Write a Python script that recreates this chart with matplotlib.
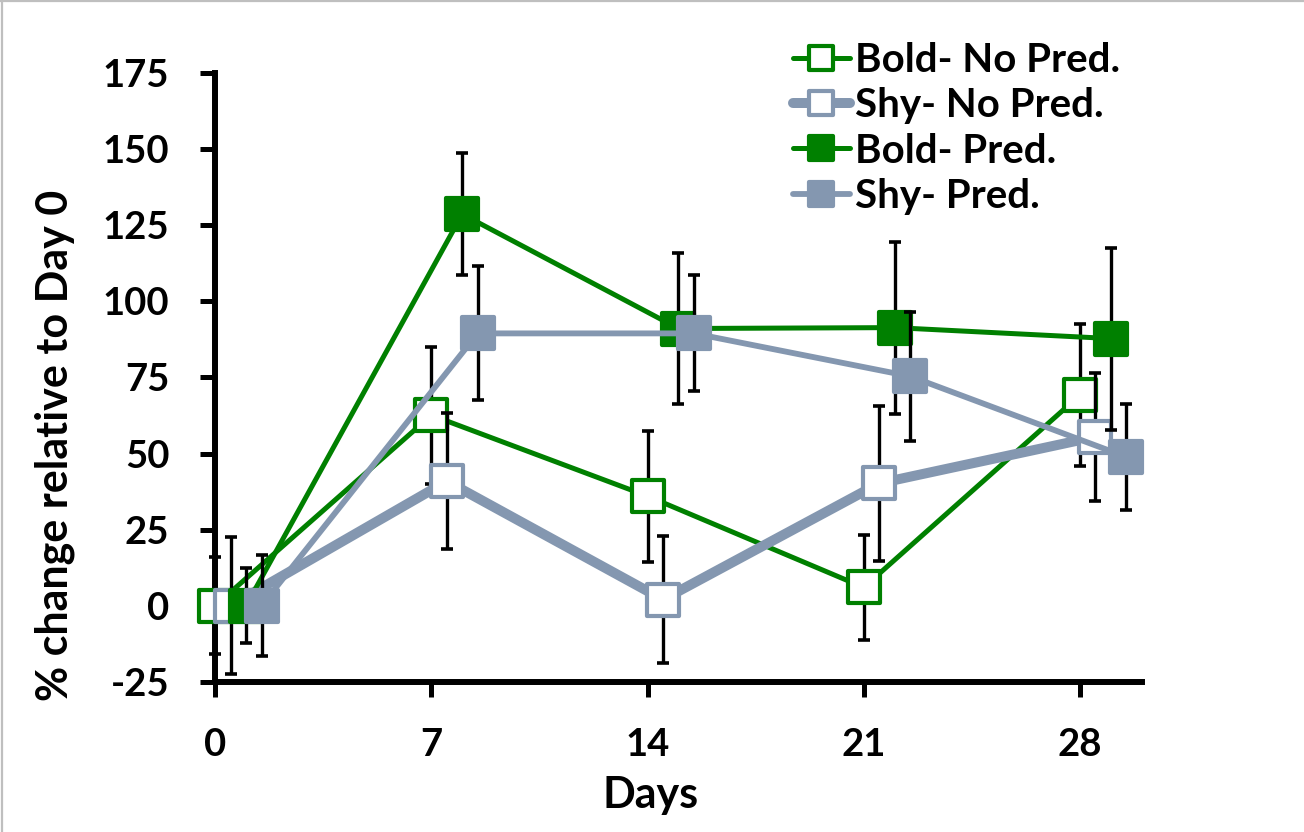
import matplotlib
matplotlib.use('Agg')
import matplotlib.pyplot as plt
from matplotlib.markers import MarkerStyle
from matplotlib.lines import Line2D

plt.rcParams['font.family'] = ['Lato', 'DejaVu Sans']
plt.rcParams['font.weight'] = 'bold'
plt.rcParams['axes.unicode_minus'] = False

# ---- data ----
days = [0, 7, 14, 21, 28]
series_names = ["Bold- No Pred.", "Shy- No Pred.", "Bold- Pred.", "Shy- Pred."]

bold_nopred = [0, 62.6, 36.0, 6.0, 69.2]
bold_nopred_err = [16.0, 22.5, 21.5, 17.2, 23.4]

shy_nopred = [0, 40.9, 2.0, 40.2, 55.5]
shy_nopred_err = [22.5, 22.3, 21.0, 25.4, 21.0]

bold_pred = [0, 128.7, 91.1, 91.4, 87.8]
bold_pred_err = [12.4, 20.0, 24.8, 28.3, 29.9]

shy_pred = [0, 89.5, 89.5, 75.4, 48.9]
shy_pred_err = [16.5, 22.0, 19.1, 21.2, 17.5]

x_ticks = [0, 7, 14, 21, 28]
x_ticklabels = ['0', '7', '14', '21', '28']
y_ticks = [-25, 0, 25, 50, 75, 100, 125, 150, 175]
y_ticklabels = ['-25', '0', '25', '50', '75', '100', '125', '150', '175']

# ---- style ----
GREEN = '#008000'
GREY = '#8497B0'
values = [bold_nopred, shy_nopred, bold_pred, shy_pred]
errors = [bold_nopred_err, shy_nopred_err, bold_pred_err, shy_pred_err]
colors = [GREEN, GREY, GREEN, GREY]
faces = ['white', 'white', GREEN, GREY]
lws = [3.6, 7.2, 3.6, 4.2]
offsets = [0.0, 0.5, 1.0, 1.5]

fig = plt.figure(figsize=(13.04, 8.32), dpi=100)
ax = fig.add_axes([0.16503, 0.18065, 0.71051, 0.73125])

for i in range(4):
    xs = [d + offsets[i] for d in days]
    eb = ax.errorbar(xs, values[i], yerr=errors[i], fmt='none', ecolor='black',
                     elinewidth=2.4, capsize=4.5, capthick=2.6, zorder=3 + 3 * i)
    for art in eb.lines[1]:
        art.set_clip_on(False)
    for art in eb.lines[2]:
        art.set_clip_on(False)
    mk = MarkerStyle('s', joinstyle='round')
    ax.plot(xs, values[i], color=colors[i], lw=lws[i], marker=mk, ms=23, mew=3,
            mfc=faces[i], mec=colors[i], zorder=4 + 3 * i, clip_on=False,
            label=series_names[i], solid_joinstyle='round', solid_capstyle='round')

ax.set_xlim(0, 30)
ax.set_ylim(-25, 175)
ax.set_xticks(x_ticks)
ax.set_xticklabels(x_ticklabels)
ax.set_yticks(y_ticks)
ax.set_yticklabels(y_ticklabels)

for s in ['top', 'right']:
    ax.spines[s].set_visible(False)
for s in ['left', 'bottom']:
    ax.spines[s].set_linewidth(4.3)
    ax.spines[s].set_color('black')
ax.tick_params(axis='both', direction='out', length=11, width=3.6, labelsize=27.5, pad=22,
               colors='black')
for lab in ax.get_xticklabels() + ax.get_yticklabels():
    lab.set_fontweight('bold')

fig.text(55 / 1304, 1 - 445 / 832, '% change relative to Day 0', rotation=90,
         ha='center', va='center', fontsize=31, fontweight='bold')
fig.text(651 / 1304, 1 - 795 / 832, 'Days', ha='center', va='center',
         fontsize=31, fontweight='bold')

leg = ax.legend(loc='upper left', bbox_to_anchor=(0.608, 0.950), bbox_transform=fig.transFigure,
                frameon=False, prop={'size': 29, 'weight': 'bold'}, handlelength=1.42,
                handletextpad=0.12, labelspacing=0.21, borderpad=0, borderaxespad=0,
                markerscale=0.75)

# light grey chart-area border (left & top)
fig.add_artist(Line2D([0.0012, 0.0012], [0, 1], transform=fig.transFigure, color='#BFBFBF', lw=1.6))
fig.add_artist(Line2D([0, 1], [0.9988, 0.9988], transform=fig.transFigure, color='#BFBFBF', lw=1.6))

fig.savefig('out.png', dpi=100)
